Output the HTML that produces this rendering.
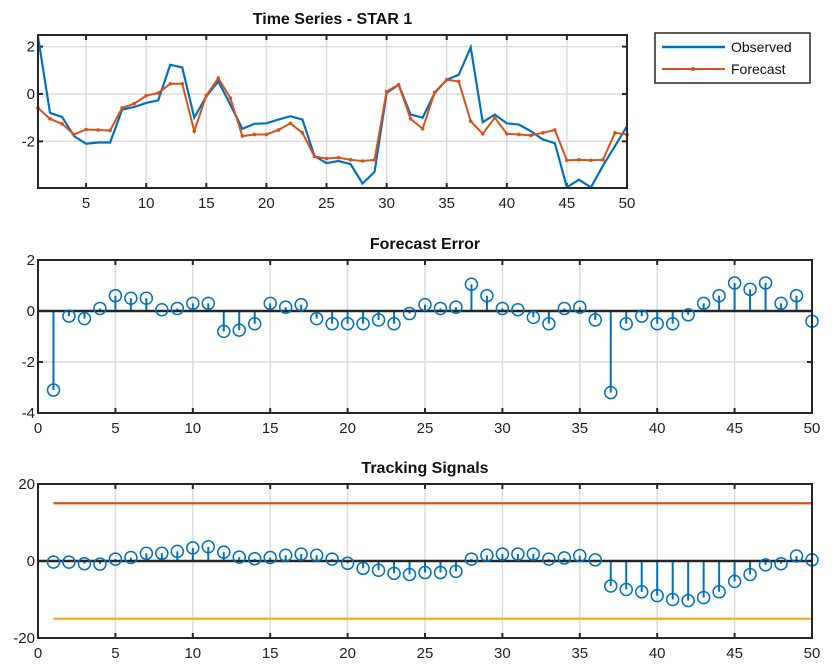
<!DOCTYPE html>
<html><head><meta charset="utf-8"><style>
body{margin:0;background:#fff;width:837px;height:669px;overflow:hidden}
svg{display:block;font-family:"Liberation Sans",Arial,sans-serif}
</style></head><body>
<svg id="c" width="837" height="669"></svg>
<script>
const xs = Array.from({length:50},(_,i)=>i+1);
const observed = [2.42,-0.8,-0.97,-1.78,-2.1,-2.05,-2.05,-0.66,-0.55,-0.38,-0.27,1.23,1.12,-1.0,-0.1,0.53,-0.45,-1.47,-1.26,-1.24,-1.08,-0.94,-1.08,-2.62,-2.92,-2.83,-2.96,-3.78,-3.29,0.04,0.39,-0.87,-1.0,0.04,0.6,0.81,1.97,-1.19,-0.87,-1.24,-1.29,-1.57,-1.92,-2.08,-3.94,-3.62,-3.94,-3.03,-2.2,-1.36];
const forecast = [-0.59,-1.05,-1.26,-1.71,-1.5,-1.52,-1.54,-0.59,-0.41,-0.07,0.04,0.43,0.43,-1.57,-0.07,0.67,-0.17,-1.78,-1.71,-1.71,-1.52,-1.24,-1.64,-2.64,-2.73,-2.69,-2.78,-2.83,-2.78,0.11,0.39,-1.05,-1.47,0.07,0.6,0.53,-1.15,-1.68,-1.0,-1.68,-1.71,-1.75,-1.64,-1.52,-2.8,-2.78,-2.8,-2.78,-1.64,-1.71];
const errors = [-3.1,-0.2,-0.3,0.1,0.6,0.5,0.5,0.05,0.1,0.3,0.3,-0.8,-0.75,-0.5,0.3,0.15,0.25,-0.3,-0.5,-0.5,-0.5,-0.35,-0.5,-0.1,0.25,0.1,0.15,1.05,0.6,0.1,0.05,-0.25,-0.5,0.1,0.15,-0.35,-3.2,-0.5,-0.2,-0.5,-0.5,-0.15,0.3,0.6,1.1,0.85,1.1,0.3,0.6,-0.4];
const tracking = [-0.3,-0.3,-0.7,-0.8,0.5,0.9,2,2,2.5,3.4,3.7,2.3,1,0.6,0.9,1.5,1.8,1.5,0.5,-0.6,-1.9,-2.4,-3.2,-3.5,-3,-3,-2.7,0.5,1.5,1.8,1.8,1.8,0.5,0.8,1.4,0.3,-6.5,-7.4,-8,-9,-10,-10.3,-9.5,-8,-5.3,-3.5,-1,-0.7,1.3,0.3];
const upperLimit = 15, lowerLimit = -15;
const xTicksTop = [5,10,15,20,25,30,35,40,45,50];
const yTicksTop = [-2,0,2];
const xTicksStem = [0,5,10,15,20,25,30,35,40,45,50];
const yTicksErr = [-4,-2,0,2];
const yTicksTrk = [-20,0,20];

const svg=document.getElementById('c');
const NS='http://www.w3.org/2000/svg';
function el(t,a,p){const e=document.createElementNS(NS,t);for(const k in a)e.setAttribute(k,a[k]);(p||svg).appendChild(e);return e;}
function lin(d0,d1,r0,r1){return v=>r0+(v-d0)*(r1-r0)/(d1-d0);}
const BLUE='#0072BD',ORANGE='#D95319',YEL='#EDB120';

function axes(name,x0,x1,y0,y1,xd,yd,xt,yt,title,ty){
  const g=el('g',{});
  
  
  const X=lin(xd[0],xd[1],x0,x1),Y=lin(yd[0],yd[1],y1,y0);
  xt.forEach(v=>{const l=el('line',{x1:X(v),x2:X(v),y1:y0,y2:y1,stroke:'#dcdcdc','stroke-width':1.5},g);});
  yt.forEach(v=>{const l=el('line',{x1:x0,x2:x1,y1:Y(v),y2:Y(v),stroke:'#dcdcdc','stroke-width':1.5},g);});
  xt.forEach(v=>{
    el('line',{x1:X(v),x2:X(v),y1:y1,y2:y1-5,stroke:'#262626','stroke-width':2},g);
    el('line',{x1:X(v),x2:X(v),y1:y0,y2:y0+5,stroke:'#262626','stroke-width':2},g);
    const t=el('text',{x:X(v),y:y1+20,'font-size':15,'text-anchor':'middle',fill:'#222'},g);t.textContent=v;
    
  });
  yt.forEach(v=>{
    el('line',{x1:x0,x2:x0+5,y1:Y(v),y2:Y(v),stroke:'#262626','stroke-width':2},g);
    el('line',{x1:x1,x2:x1-5,y1:Y(v),y2:Y(v),stroke:'#262626','stroke-width':2},g);
    const t=el('text',{x:x0-3,y:Y(v)+5,'font-size':15,'text-anchor':'end',fill:'#222'},g);t.textContent=v;
    
  });
  const tt=el('text',{x:(x0+x1)/2,y:ty,'font-size':16,'font-weight':'bold','text-anchor':'middle',fill:'#111'},g);tt.textContent=title;
  
  return {g,X,Y,box:()=>{const b=el('rect',{x:x0,y:y0,width:x1-x0,height:y1-y0,fill:'none',stroke:'#262626','stroke-width':2},g);}};
}

// Top
const A=axes('time-series-axes',38,627,35,188,[1,50],[-3.97,2.49],xTicksTop,yTicksTop,'Time Series - STAR 1',24);
const po=el('polyline',{points:xs.map((x,i)=>A.X(x)+','+A.Y(observed[i])).join(' '),fill:'none',stroke:BLUE,'stroke-width':2.2},A.g);

const pf=el('polyline',{points:xs.map((x,i)=>A.X(x)+','+A.Y(forecast[i])).join(' '),fill:'none',stroke:ORANGE,'stroke-width':2},A.g);

xs.forEach((x,i)=>{const d=el('circle',{cx:A.X(x),cy:A.Y(forecast[i]),r:1.8,fill:ORANGE},A.g);});
A.box();
// legend
const lg=el('g',{});

el('rect',{x:655,y:33,width:155,height:50,fill:'#fff',stroke:'#262626','stroke-width':1.5},lg);
el('line',{x1:662,x2:725,y1:47,y2:47,stroke:BLUE,'stroke-width':2.5},lg);
el('line',{x1:662,x2:725,y1:69,y2:69,stroke:ORANGE,'stroke-width':2},lg);
el('circle',{cx:693,cy:69,r:2,fill:ORANGE},lg);
let t=el('text',{x:731,y:52,'font-size':14,fill:'#111'},lg);t.textContent='Observed';

t=el('text',{x:731,y:74,'font-size':14,fill:'#111'},lg);t.textContent='Forecast';


function stems(ax,vals,nm){
  xs.forEach((x,i)=>{
    const l=el('line',{x1:ax.X(x),x2:ax.X(x),y1:ax.Y(0),y2:ax.Y(vals[i]),stroke:BLUE,'stroke-width':2},ax.g);
    
  });
  const b=el('line',{x1:ax.X(0),x2:ax.X(50),y1:ax.Y(0),y2:ax.Y(0),stroke:'#262626','stroke-width':2.5},ax.g);
  
  xs.forEach((x,i)=>{
    const c=el('circle',{cx:ax.X(x),cy:ax.Y(vals[i]),r:6,fill:'none',stroke:BLUE,'stroke-width':1.5},ax.g);
    
  });
}
// Middle
const B=axes('forecast-error-axes',38,812,260,413,[0,50],[-4,2],xTicksStem,yTicksErr,'Forecast Error',249);
stems(B,errors,'error');B.box();
// Bottom
const C=axes('tracking-signal-axes',38,812,484,638,[0,50],[-20,20],xTicksStem,yTicksTrk,'Tracking Signals',473);
let u=el('line',{x1:C.X(1),x2:C.X(50),y1:C.Y(upperLimit),y2:C.Y(upperLimit),stroke:ORANGE,'stroke-width':2.2},C.g);

u=el('line',{x1:C.X(1),x2:C.X(50),y1:C.Y(lowerLimit),y2:C.Y(lowerLimit),stroke:YEL,'stroke-width':2.2},C.g);

stems(C,tracking,'tracking');C.box();
</script>
</body></html>
